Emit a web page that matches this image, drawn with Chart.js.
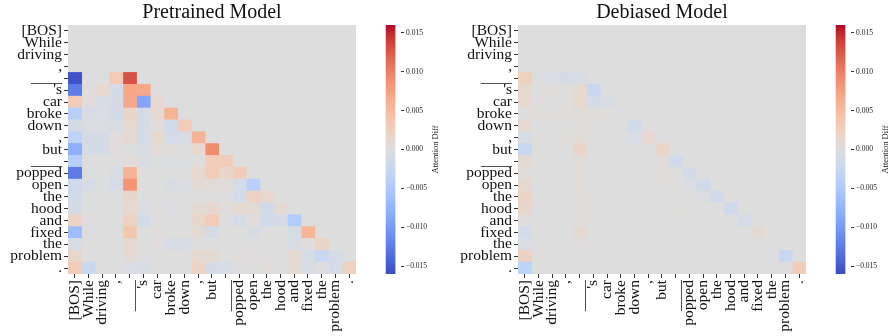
<!DOCTYPE html>
<html lang="en">
<head>
<meta charset="UTF-8">
<title>Attention Diff</title>
<style>
    body {
        margin: 0;
        background: #fff;
    }

    #wrap {
        position: relative;
        width: 888px;
        height: 336px;
        overflow: hidden;
    }

    .box {
        position: absolute;
        top: 0;
        height: 336px;
    }
</style>
</head>
<body>

<div id="wrap">
    <div class="box" style="left:0;width:370px"><canvas id="leftMap" width="370" height="336"></canvas></div>
    <div class="box" style="left:370px;width:70px"><canvas id="leftBar" width="70" height="336"></canvas></div>
    <div class="box" style="left:440px;width:380px"><canvas id="rightMap" width="380" height="336"></canvas></div>
    <div class="box" style="left:820px;width:68px"><canvas id="rightBar" width="68" height="336"></canvas></div>
</div>

<script src="https://cdn.jsdelivr.net/npm/chart.js"></script>

<script>
    // tokens (rows and columns of both heatmaps)
    const tokens = ['[BOS]', 'While', 'driving', ',', '____', "'s", 'car', 'broke', 'down', ',',
        'but', '____', 'popped', 'open', 'the', 'hood', 'and', 'fixed', 'the', 'problem', '.'];

    // lower triangle, row r holds columns 0..r (everything above is 0)
    const pretrainedRows = [
        [0],
        [0, 0],
        [0, 0, 0],
        [0, 0, 0, 0],
        [-0.0154, 0.0000, -0.0002, 0.0032, 0.0128],
        [-0.0125, 0.0002, 0.0012, -0.0010, 0.0070, 0.0068],
        [0.0030, 0.0002, -0.0008, -0.0010, 0.0068, -0.0090, 0.0012],
        [-0.0040, -0.0008, -0.0004, -0.0012, 0.0016, -0.0010, 0.0010, 0.0058],
        [-0.0010, -0.0004, -0.0004, -0.0008, 0.0010, -0.0010, 0.0002, -0.0015, 0.0030],
        [-0.0035, -0.0010, -0.0010, 0.0002, 0.0010, -0.0012, 0.0012, -0.0012, -0.0008, 0.0058],
        [-0.0080, -0.0010, -0.0010, 0.0002, -0.0002, -0.0008, 0.0006, 0.0002, 0.0000, 0.0012, 0.0090],
        [-0.0042, 0.0000, 0.0000, 0.0000, 0.0006, -0.0006, -0.0002, -0.0002, -0.0002, 0.0000, 0.0030, 0.0030],
        [-0.0125, 0.0000, 0.0000, -0.0006, 0.0058, 0.0001, 0.0000, 0.0000, 0.0000, 0.0012, 0.0030, 0.0015, 0.0030],
        [-0.0020, -0.0010, -0.0002, -0.0010, 0.0085, 0.0000, 0.0000, -0.0006, -0.0004, 0.0008, 0.0006, 0.0004, -0.0012, -0.0040],
        [-0.0015, -0.0002, 0, -0.0002, 0.0015, -0.0002, 0, -0.0002, 0, 0, 0, 0, -0.0012, 0.0020, 0.0012],
        [-0.0010, 0, 0, 0, 0.0012, -0.0004, 0, -0.0004, 0, 0.0008, 0.0012, 0.0002, 0.0010, 0.0008, -0.0015, 0.0008],
        [0.0020, 0.0001, 0, 0, 0.0022, -0.0012, 0.0001, 0, 0, 0.0015, 0.0030, 0, -0.0010, 0.0002, -0.0015, -0.0010, -0.0045],
        [-0.0065, 0, 0, 0.0001, 0.0038, -0.0002, 0.0002, 0, 0.0001, 0.0008, -0.0010, 0, 0, -0.0006, 0, 0, -0.0008, 0.0055],
        [-0.0008, 0, 0, 0, 0.0010, 0, 0.0002, -0.0008, -0.0008, 0, 0, 0, 0, 0, 0, 0, -0.0008, 0.0002, 0.0018],
        [0.0015, 0, 0, 0, 0.0008, -0.0002, 0, 0, 0, 0.0010, 0.0008, 0, 0.0002, 0.0002, 0, 0, 0.0010, -0.0010, -0.0025, -0.0010],
        [0.0030, -0.0022, 0, 0, -0.0005, -0.0008, 0, 0, 0, 0.0020, -0.0010, -0.0008, 0, 0, 0.0004, 0, 0.0008, -0.0008, 0.0000, -0.0010, 0.0025]
    ];

    const debiasedRows = [
        [0],
        [0, 0],
        [0, 0, 0],
        [0, 0, 0, 0],
        [0.0025, 0.0000, -0.0005, -0.0010, -0.0007],
        [0.0012, 0.0000, 0.0001, 0.0001, 0.0012, -0.0025],
        [0.0012, 0.0001, 0.0000, 0.0001, 0.0012, -0.0012, -0.0008],
        [0.0001, 0.0001, 0.0001, 0.0001, 0.0005, 0.0001, 0.0001, -0.0002],
        [0.0010, 0, 0, 0, 0.0003, 0, 0, 0, -0.0015],
        [-0.0008, 0.0001, 0, 0.0001, 0.0005, 0, 0, 0, -0.0005, 0.0010],
        [-0.0025, 0, 0, 0, 0.0018, 0, 0, 0, 0, 0, 0.0015],
        [0.0008, 0, 0, 0, 0.0005, 0, 0, 0, 0, 0, 0.0005, -0.0015],
        [0.0003, 0, 0, 0, 0.0005, 0, 0, 0, 0, 0, 0.0003, 0, -0.0010],
        [0.0012, 0, 0, 0, 0.0005, 0, 0, 0, 0, 0, 0.0001, 0, -0.0005, -0.0015],
        [0.0020, 0, 0, 0, 0.0003, 0, 0, 0, 0, 0, 0, 0, 0, -0.0003, -0.0015],
        [0.0015, 0, 0, 0, 0.0003, 0, 0, 0, 0, 0, 0, 0.0001, 0.0001, 0, 0, -0.0018],
        [0.0002, 0, 0, 0, 0.0003, 0, 0, 0, 0, 0, 0, 0.0001, 0, 0, 0, 0, -0.0010],
        [-0.0012, 0, 0, 0, 0.0010, 0, 0, 0, 0, 0, 0, 0, 0, 0, 0, 0, 0, 0.0008],
        [-0.0005, 0, 0, 0, 0.0002, 0, 0, 0, 0, 0, 0, 0, 0, 0, 0, 0, 0, 0, 0],
        [0.0020, 0.0001, 0, 0, 0, 0, 0, 0, 0, 0, 0, 0, 0, 0, 0, 0, 0, 0, 0, -0.0025],
        [-0.0035, 0, 0, 0, 0.0001, 0, 0, 0, 0, 0, 0, 0, 0, 0, 0, 0, 0, 0, 0, 0, 0.0028]
    ];

    // colour bar range and ticks
    const cbMin = -0.016;
    const cbMax = 0.016;
    const cbTicks = [-0.015, -0.010, -0.005, 0.000, 0.005, 0.010, 0.015];

    const serif = 'Liberation Serif, Times New Roman, serif';

    // coolwarm colormap anchors (Moreland)
    const coolwarmStops = [
        [59, 76, 192], [68, 90, 204], [77, 104, 215], [87, 117, 225], [98, 130, 234],
        [108, 142, 241], [119, 154, 247], [130, 165, 251], [141, 176, 254], [152, 185, 255],
        [163, 194, 255], [174, 201, 253], [184, 208, 249], [194, 213, 244], [204, 217, 238],
        [213, 219, 230], [221, 221, 221], [229, 216, 209], [236, 211, 197], [241, 204, 184],
        [245, 196, 172], [247, 187, 160], [247, 177, 148], [247, 166, 135], [244, 154, 123],
        [241, 141, 111], [236, 127, 99], [229, 112, 88], [222, 96, 77], [213, 80, 66],
        [203, 62, 56], [192, 40, 47], [180, 4, 38]
    ];

    function coolwarm(v) {
        let t = (v - cbMin) / (cbMax - cbMin);
        t = Math.max(0, Math.min(1, t));
        const pos = t * (coolwarmStops.length - 1);
        const i = Math.min(Math.floor(pos), coolwarmStops.length - 2);
        const f = pos - i;
        const a = coolwarmStops[i], b = coolwarmStops[i + 1];
        const c = a.map((x, k) => Math.round(x + (b[k] - x) * f));
        return `rgb(${c[0]},${c[1]},${c[2]})`;
    }

    function cellValue(rows, r, c) {
        const row = rows[r];
        return c < row.length ? row[c] : 0;
    }

    // grey under the cells, hides seams
    const areaFill = {
        id: 'areaFill',
        beforeDatasetsDraw(chart) {
            const {ctx, chartArea: a} = chart;
            ctx.save();
            ctx.fillStyle = coolwarm(0);
            ctx.fillRect(a.left, a.top, a.right - a.left, a.bottom - a.top);
            ctx.restore();
        }
    };

    function drawHeatmap(id, title, rows, yWidth, padRight) {
        // one dataset per column, each bar is one cell [c, c+1]
        const datasets = tokens.map((_, c) => ({
            data: tokens.map(() => [c, c + 1]),
            backgroundColor: tokens.map((_, r) => coolwarm(cellValue(rows, r, c))),
            borderWidth: 0,
            grouped: false,
            categoryPercentage: 1,
            barPercentage: 1
        }));

        new Chart(document.getElementById(id), {
            type: 'bar',
            data: { labels: tokens, datasets: datasets },
            options: {
                indexAxis: 'y',
                responsive: false,
                animation: false,
                layout: { autoPadding: false, padding: { left: 0, right: padRight, top: 0, bottom: 0 } },
                plugins: {
                    legend: { display: false },
                    tooltip: { enabled: false },
                    title: {
                        display: true,
                        text: title,
                        fullSize: false,
                        color: '#111',
                        font: { family: serif, size: 20, weight: 'normal' },
                        padding: { top: 1, bottom: 0 }
                    }
                },
                scales: {
                    x: {
                        type: 'linear',
                        min: 0,
                        max: tokens.length,
                        afterBuildTicks: (s) => { s.ticks = tokens.map((_, i) => ({ value: i + 0.5 })); },
                        afterFit: (s) => { s.height = 62; },
                        ticks: {
                            autoSkip: false,
                            minRotation: 90,
                            maxRotation: 90,
                            padding: 2,
                            color: '#111',
                            font: { family: serif, size: 15.5 },
                            callback: (v, i) => tokens[i]
                        },
                        grid: { drawOnChartArea: false, tickLength: 4, color: '#333' },
                        border: { display: false }
                    },
                    y: {
                        afterFit: (s) => { s.width = yWidth; },
                        ticks: {
                            autoSkip: false,
                            padding: 2,
                            color: '#111',
                            font: { family: serif, size: 15.5 }
                        },
                        grid: { drawOnChartArea: false, offset: false, tickLength: 4, color: '#333' },
                        border: { display: false }
                    }
                }
            },
            plugins: [areaFill]
        });
    }

    function barGradient(chart) {
        const a = chart.chartArea;
        if (!a) return null;
        const g = chart.ctx.createLinearGradient(0, a.bottom, 0, a.top);
        coolwarmStops.forEach((c, i) => {
            g.addColorStop(i / (coolwarmStops.length - 1), `rgb(${c[0]},${c[1]},${c[2]})`);
        });
        return g;
    }

    function drawColorbar(id, axisWidth, labelX) {
        const label = {
            id: 'cbLabel',
            afterDraw(chart) {
                const {ctx, chartArea: a} = chart;
                ctx.save();
                ctx.translate(labelX, (a.top + a.bottom) / 2);
                ctx.rotate(-Math.PI / 2);
                ctx.font = '8.5px ' + serif;
                ctx.fillStyle = '#111';
                ctx.textAlign = 'center';
                ctx.textBaseline = 'middle';
                ctx.fillText('Attention Diff', 0, 0);
                ctx.restore();
            }
        };

        new Chart(document.getElementById(id), {
            type: 'bar',
            data: {
                datasets: [{
                    data: [{ x: 0.27, y: [cbMin, cbMax] }],
                    backgroundColor: (ctx) => barGradient(ctx.chart),
                    borderWidth: 0,
                    barThickness: 9
                }]
            },
            options: {
                responsive: false,
                animation: false,
                layout: { autoPadding: false, padding: { left: 14, right: 0, top: 25, bottom: 62 } },
                plugins: { legend: { display: false }, tooltip: { enabled: false } },
                scales: {
                    x: { type: 'linear', min: 0, max: 1, display: false },
                    y: {
                        position: 'right',
                        min: cbMin,
                        max: cbMax,
                        afterBuildTicks: (s) => { s.ticks = cbTicks.map(v => ({ value: v })); },
                        afterFit: (s) => { s.width = axisWidth; },
                        ticks: {
                            padding: 2,
                            color: '#222',
                            font: { family: serif, size: 7.5 },
                            callback: (v) => v.toFixed(3).replace('-', '\u2212')
                        },
                        grid: { drawOnChartArea: false, tickLength: 3, color: '#333' },
                        border: { display: false }
                    }
                }
            },
            plugins: [label]
        });
    }

    drawHeatmap('leftMap', 'Pretrained Model', pretrainedRows, 68, 4);
    drawHeatmap('rightMap', 'Debiased Model', debiasedRows, 78, 5);
    drawColorbar('leftBar', 39, 66);
    drawColorbar('rightBar', 37, 66);
</script>
</body>
</html>
